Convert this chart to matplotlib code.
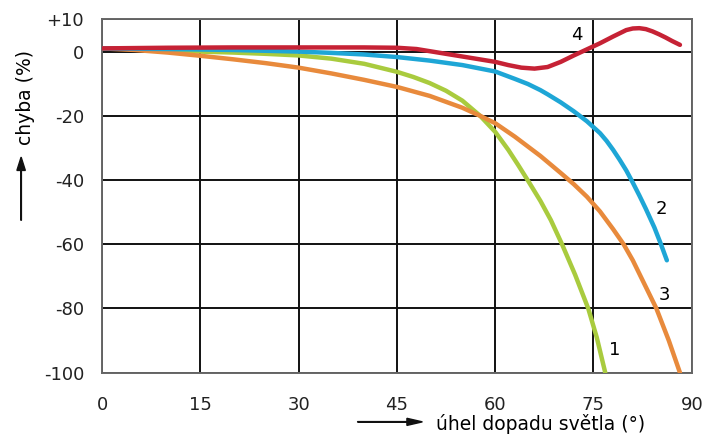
import matplotlib as mpl
mpl.use('Agg')
import numpy as np
import matplotlib.pyplot as plt

plt.rcParams['font.family'] = ['DejaVu Sans']

# curve 1 (green)
x1 = [0, 5, 10, 15, 20, 25, 30, 35, 40, 45, 47.5, 50, 52.5, 55, 57.7, 60, 62, 63.5, 65.1, 66.9, 68.5, 70.2, 72.2, 74.2, 75.5, 76.8]
y1 = [1, 0.8, 0.5, 0, -0.3, -0.7, -1.2, -2.2, -3.8, -6.3, -7.9, -9.8, -12.2, -15.3, -20, -25, -30.6, -35.3, -40.5, -46.5, -52.5, -60, -69.5, -80, -89, -100]
# curve 2 (blue)
x2 = [0, 10, 20, 30, 35, 40, 45, 50, 55, 60, 63, 65, 66.9, 68, 70, 72, 74, 76, 77, 78, 79, 80, 81, 82, 83, 84.3, 85.3, 86.2]
y2 = [1, 0.8, 0.5, 0, -0.4, -0.9, -1.7, -2.8, -4.2, -6.2, -8.5, -10.1, -12, -13.3, -15.8, -18.6, -21.7, -25.4, -27.8, -30.6, -33.7, -37, -40.8, -44.8, -49, -54.8, -60, -65]
# curve 3 (orange)
x3 = [0, 5, 10, 15, 20, 25, 30, 35, 40, 45, 50, 55, 57.7, 60, 63, 66.9, 70, 72, 74, 76, 78, 79.6, 81, 82.2, 84.6, 86.5, 88.2]
y3 = [1, 0.5, -0.3, -1.3, -2.4, -3.6, -5, -6.8, -8.8, -11, -13.8, -17.5, -20, -22.3, -26.5, -32.5, -37.8, -41.3, -45.2, -49.8, -55.3, -60, -65, -70, -80, -90, -100]
# curve 4 (red)
x4 = [0, 10, 20, 30, 40, 45, 48, 51, 54, 57, 60, 62, 64, 66, 68, 70, 72, 74, 76, 78, 80, 81, 82, 83, 84, 85, 86, 87, 88.2]
y4 = [1, 1.2, 1.3, 1.3, 1.3, 1.2, 0.8, -0.2, -1.2, -2.2, -3.2, -4.2, -5, -5.3, -4.8, -3.2, -1.2, 0.7, 2.6, 4.7, 6.7, 7.2, 7.3, 7, 6.3, 5.4, 4.4, 3.3, 2.1]

xticks = [0, 15, 30, 45, 60, 75, 90]
yticks = [10, 0, -20, -40, -60, -80, -100]
ylabels = ['+10', '0', '-20', '-40', '-60', '-80', '-100']

fig = plt.figure(figsize=(7.04, 4.45), dpi=100)
ax = fig.add_axes([0.145, 0.1625, 0.8376, 0.7937])

kw = dict(lw=3.2, solid_capstyle='round', solid_joinstyle='round')
ax.plot(x1, y1, color='#a9cb3e', zorder=3, **kw)
ax.plot(x3, y3, color='#e88a3c', zorder=3, **kw)
ax.plot(x2, y2, color='#1ea6d6', zorder=4, **kw)
ax.plot(x4, y4, color='#c62235', zorder=5, **kw)

ax.set_xlim(0, 90)
ax.set_ylim(-100, 10)
ax.set_xticks(xticks)
ax.set_yticks(yticks)
ax.set_yticklabels(ylabels)
ax.tick_params(length=0, labelsize=13, colors='#222222')
ax.tick_params(axis='y', pad=13)
ax.tick_params(axis='x', pad=17)
ax.grid(True, color='#111111', lw=1.4, zorder=1)
for s in ax.spines.values():
    s.set_color('#666666')
    s.set_linewidth(1.4)

# curve labels
ax.text(72.5, 5.2, '4', fontsize=13, ha='center', va='center')
ax.text(85.4, -49, '2', fontsize=13, ha='center', va='center')
ax.text(85.9, -75.7, '3', fontsize=13, ha='center', va='center')
ax.text(78.3, -93, '1', fontsize=13, ha='center', va='center')

# axis titles with arrows
fig.text(0.036, 0.78, 'chyba (%)', rotation=90, fontsize=13.5, ha='center', va='center')
fig.patches.append(mpl.patches.FancyArrow(0.030, 0.505, 0, 0.142, width=0.0008, head_width=0.012,
                                          head_length=0.03, length_includes_head=True,
                                          color='#111111', transform=fig.transFigure, figure=fig))
fig.text(0.62, 0.047, 'úhel dopadu světla (°)', fontsize=13.5, ha='left', va='center')
fig.patches.append(mpl.patches.FancyArrow(0.508, 0.052, 0.092, 0, width=0.0012, head_width=0.016,
                                          head_length=0.022, length_includes_head=True,
                                          color='#111111', transform=fig.transFigure, figure=fig))

fig.savefig('out.png', dpi=100)
